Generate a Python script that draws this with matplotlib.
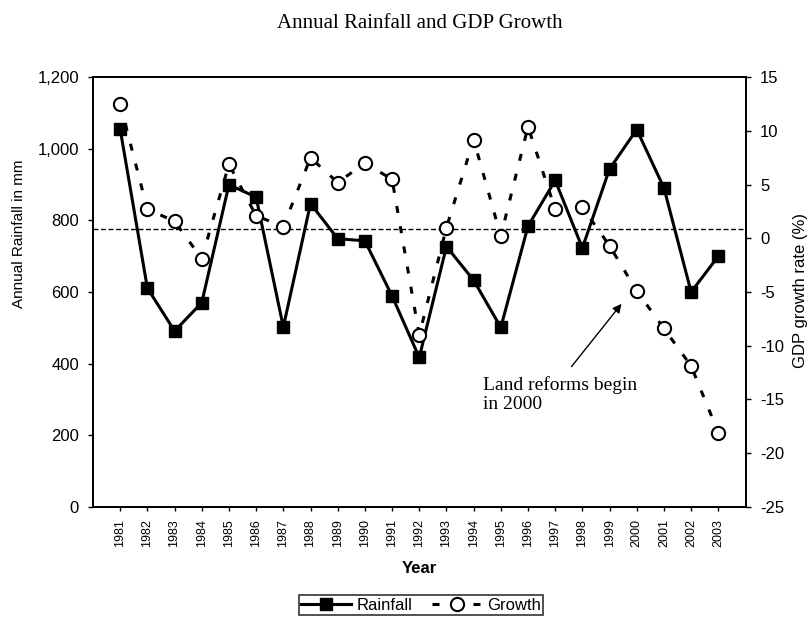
import matplotlib
matplotlib.use("Agg")
import matplotlib.pyplot as plt
from matplotlib.ticker import FuncFormatter, MultipleLocator
from matplotlib.lines import Line2D

# ---------------- data ----------------
years = list(range(1981, 2004))
rainfall = [1055, 611, 491, 570, 900, 865, 502, 847, 749, 743, 589, 417,
            727, 633, 501, 784, 912, 723, 944, 1054, 891, 600, 700]
growth = [12.5, 2.7, 1.6, -1.9, 6.9, 2.1, 1.1, 7.5, 5.2, 7.0, 5.5, -9.0,
          1.0, 9.2, 0.2, 10.4, 2.7, 2.9, -0.7, -4.9, -8.4, -11.9, -18.1]
reference_rainfall = 775
title = "Annual Rainfall and GDP Growth"
annotation_text = "Land reforms begin\nin 2000"
arrow_tip = (1999.44, -6.1)
arrow_tail = (1997.6, -11.95)
text_pos = (1994.33, -12.8)

SANS = ["Liberation Sans", "DejaVu Sans"]
SERIF = ["Liberation Serif", "DejaVu Serif"]
plt.rcParams["font.family"] = SANS
plt.rcParams["axes.unicode_minus"] = False

W, H = 809, 623
fig = plt.figure(figsize=(W / 100, H / 100), dpi=100)
ax = fig.add_axes([93 / W, 1 - 506.7 / H, (745.5 - 93) / W, (506.7 - 77.3) / H])
ax2 = ax.twinx()

# rainfall
ax.plot(years, rainfall, color="black", lw=2.2, marker="s", ms=8,
        mfc="black", mec="black", zorder=3)
ax.axhline(reference_rainfall, color="black", lw=1.0,
           linestyle=(0, (3.6, 1.8)), zorder=2)

# growth
ax2.plot(years, growth, color="black", lw=2.2, linestyle=(0, (2.3, 4.4)),
         marker="o", ms=9.5, mfc="white", mec="black", mew=1.5, zorder=3)

ax.set_xlim(1980, 2004)
ax.set_ylim(0, 1200)
ax2.set_ylim(-25, 15)
ax.set_xticks(years)
ax.set_xticklabels([str(y) for y in years], rotation=90, fontsize=9)
ax.yaxis.set_major_locator(MultipleLocator(200))
ax.yaxis.set_major_formatter(FuncFormatter(lambda v, p: f"{int(v):,}"))
ax2.yaxis.set_major_locator(MultipleLocator(5))

ax.tick_params(axis="y", direction="out", length=3.5, width=1, pad=6.5, labelsize=12)
ax.tick_params(axis="x", direction="out", length=3, width=1, pad=6)
ax2.tick_params(axis="y", direction="out", length=3.5, width=1, pad=7, labelsize=12)

for a in (ax, ax2):
    for s in a.spines.values():
        s.set_linewidth(1.4)
        s.set_color("black")

ax.set_xlabel("Year", fontsize=12, fontweight="bold", labelpad=10)

fig.text(19 / W, 1 - 234 / H, "Annual Rainfall in mm", rotation=90,
         ha="center", va="center", fontsize=11)
fig.text(800 / W, 1 - 290 / H, "GDP growth rate (%)", rotation=90,
         ha="center", va="center", fontsize=12)
fig.text(420 / W, 1 - 23 / H, title, ha="center", va="center",
         fontsize=15, family=SERIF)

# annotation
ax2.annotate("", xy=arrow_tip, xytext=arrow_tail,
             arrowprops=dict(arrowstyle="-|>", color="black", lw=1.0,
                             mutation_scale=13, shrinkA=0, shrinkB=0))
ax2.text(text_pos[0], text_pos[1], annotation_text, ha="left", va="top",
         fontsize=14, family=SERIF, linespacing=1.15)

# legend
h1 = Line2D([], [], color="black", lw=2.2, marker="s", ms=8)
h2 = Line2D([], [], color="black", lw=2.2, linestyle=(0, (2.3, 4.4)),
            marker="o", ms=9.5, mfc="white", mec="black", mew=1.5)
leg = fig.legend([h1, h2], ["Rainfall", "Growth"], loc="center",
                 bbox_to_anchor=(421 / W, 1 - 605 / H), ncol=2, fontsize=12,
                 frameon=True, fancybox=False, edgecolor="black",
                 handlelength=3.0, handletextpad=0.3, columnspacing=1.2,
                 borderpad=0.15, borderaxespad=0)
leg.get_frame().set_linewidth(1.2)

fig.savefig("out.png", dpi=100)
